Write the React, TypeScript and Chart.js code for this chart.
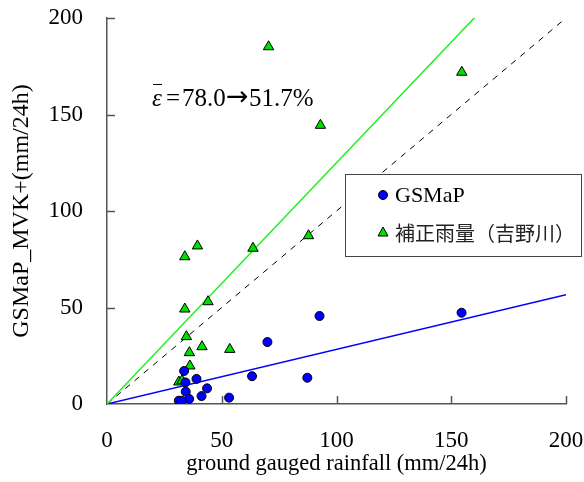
import React, { useEffect, useRef } from "react";
import { Chart, registerables } from "chart.js";

Chart.register(...registerables);

// ---- data ----
const gsmapX = [154.5, 92.6, 69.9, 63.2, 87.3, 33.6, 39.0, 34.2, 43.6, 34.3, 41.2, 53.2, 35.8, 31.3, 32.5];
const gsmapY = [47.3, 45.6, 32.1, 14.4, 13.6, 17.1, 13.0, 11.2, 8.1, 6.4, 4.1, 3.3, 2.6, 1.7, 1.7];

const corrX = [70.4, 154.6, 93.0, 87.8, 39.4, 63.6, 33.9, 44.0, 33.9, 34.6, 41.4, 53.5, 35.9, 36.1, 31.3, 32.7];
const corrY = [185.1, 171.9, 144.4, 87.2, 81.9, 80.7, 76.3, 53.0, 49.2, 34.9, 29.7, 28.3, 26.6, 19.7, 11.4, 12.1];

const greenSlope = 1.25;
const blueSlope = 0.283;
const axisMax = 200;
const tickStep = 50;

const labelGsmap = "GSMaP";
const labelCorr = "補正雨量（吉野川）";
const xTitle = "ground gauged rainfall (mm/24h)";
const yTitle = "GSMaP_MVK+(mm/24h)";
const errBefore = "78.0";
const errAfter = "51.7%";

const SERIF = "'Liberation Serif', 'Times New Roman', serif";
const BLUE = "#0000ff";
const GREEN = "#00e000";
const GREEN_LINE = "#22ee22";
const AXIS = "#555555";

const toPts = (xs: number[], ys: number[]) => xs.map((x, i) => ({ x, y: ys[i] }));

const innerTicks = {
  id: "innerTicks",
  afterDraw(chart: any) {
    const { ctx, chartArea, scales } = chart;
    const xs = scales.x, ys = scales.y;
    ctx.save();
    ctx.strokeStyle = AXIS;
    ctx.lineWidth = 1.5;
    ctx.beginPath();
    for (let v = tickStep; v <= axisMax; v += tickStep) {
      const px = Math.round(xs.getPixelForValue(v)) + 0.5;
      ctx.moveTo(px, chartArea.bottom);
      ctx.lineTo(px, chartArea.bottom - 8);
      const py = Math.round(ys.getPixelForValue(v)) + 0.5;
      ctx.moveTo(chartArea.left, py);
      ctx.lineTo(chartArea.left + 8, py);
    }
    ctx.stroke();
    ctx.restore();
  },
};

const legendBox = {
  id: "legendBox",
  afterDraw(chart: any) {
    const { ctx } = chart;
    const L = 345, T = 174, R = 581, B = 256;
    ctx.save();
    ctx.fillStyle = "#ffffff";
    ctx.fillRect(L, T, R - L, B - T);
    ctx.strokeStyle = "#444444";
    ctx.lineWidth = 1;
    ctx.strokeRect(L + 0.5, T + 0.5, R - L, B - T);
    const ds = chart.data.datasets;
    ctx.fillStyle = ds[0].backgroundColor;
    ctx.strokeStyle = "#000";
    ctx.lineWidth = 1;
    ctx.beginPath();
    ctx.arc(383, 195, 4.5, 0, Math.PI * 2);
    ctx.fill();
    ctx.stroke();
    ctx.fillStyle = ds[1].backgroundColor;
    ctx.beginPath();
    ctx.moveTo(383, 227);
    ctx.lineTo(388, 236);
    ctx.lineTo(378, 236);
    ctx.closePath();
    ctx.fill();
    ctx.stroke();
    ctx.fillStyle = "#000";
    ctx.textBaseline = "middle";
    ctx.textAlign = "left";
    ctx.font = `22px ${SERIF}`;
    ctx.fillText(ds[0].label, 395, 196);
    ctx.fillStyle = "#222";
    ctx.font = `20px 'Noto Sans CJK JP', sans-serif`;
    ctx.fillText(ds[1].label, 395, 233);
    ctx.restore();
  },
};

const annotation = {
  id: "annotation",
  afterDatasetsDraw(chart: any) {
    const { ctx } = chart;
    const base = 106;
    ctx.save();
    ctx.fillStyle = "#000";
    ctx.textBaseline = "alphabetic";
    ctx.textAlign = "left";
    ctx.font = `italic 25px ${SERIF}`;
    ctx.fillText("ε", 152, base);
    ctx.strokeStyle = "#000";
    ctx.lineWidth = 1;
    ctx.beginPath();
    ctx.moveTo(153, 84.5);
    ctx.lineTo(162, 84.5);
    ctx.stroke();
    ctx.font = `25px ${SERIF}`;
    ctx.fillText("=", 166, base);
    ctx.fillText(errBefore, 182, base);
    ctx.font = `27px 'DejaVu Sans', sans-serif`;
    ctx.fillText("→", 226, base - 1);
    ctx.font = `25px ${SERIF}`;
    ctx.fillText(errAfter, 249, base);
    ctx.restore();
  },
};

export default function App() {
  const ref = useRef<HTMLCanvasElement | null>(null);
  useEffect(() => {
    if (!ref.current) return;
    const chart = new Chart(ref.current, {
      type: "scatter",
      data: {
        datasets: [
          {
            label: labelGsmap,
            data: toPts(gsmapX, gsmapY),
            pointStyle: "circle",
            pointRadius: 4.5,
            backgroundColor: BLUE,
            borderColor: "#000",
            borderWidth: 1,
          },
          {
            label: labelCorr,
            data: toPts(corrX, corrY),
            pointStyle: "triangle",
            pointRadius: 6,
            backgroundColor: GREEN,
            borderColor: "#000",
            borderWidth: 1,
          },
          {
            label: "fitCorr",
            data: [{ x: 0, y: 0 }, { x: axisMax, y: axisMax * greenSlope }],
            showLine: true,
            pointRadius: 0,
            borderColor: GREEN_LINE,
            borderWidth: 1.5,
          },
          {
            label: "oneToOne",
            data: [{ x: 0, y: 0 }, { x: axisMax, y: axisMax }],
            showLine: true,
            pointRadius: 0,
            borderColor: "#000",
            borderWidth: 1,
            borderDash: [6, 6],
          },
          {
            label: "fitGsmap",
            data: [{ x: 0, y: 0 }, { x: axisMax, y: axisMax * blueSlope }],
            showLine: true,
            pointRadius: 0,
            borderColor: BLUE,
            borderWidth: 1.5,
          },
        ],
      },
      options: {
        animation: false,
        responsive: true,
        maintainAspectRatio: false,
        layout: { padding: { top: 18, right: 18, left: 0, bottom: 0 } },
        plugins: { legend: { display: false }, tooltip: { enabled: false } },
        scales: {
          x: {
            type: "linear",
            min: 0,
            max: axisMax,
            ticks: { stepSize: tickStep, padding: 23, color: "#000", font: { family: SERIF, size: 23 } },
            grid: { drawOnChartArea: false, drawTicks: false },
            border: { display: true, color: AXIS, width: 1.5 },
            title: { display: true, text: xTitle, color: "#000", font: { family: SERIF, size: 22.5 }, padding: { top: 0, bottom: 4 } },
            afterFit: (s: any) => {
              s.height = 78;
              s.paddingLeft = 0;
              s.paddingRight = 0;
            },
          },
          y: {
            type: "linear",
            min: 0,
            max: axisMax,
            ticks: { stepSize: tickStep, padding: 24, color: "#000", font: { family: SERIF, size: 23 } },
            grid: { drawOnChartArea: false, drawTicks: false },
            border: { display: true, color: AXIS, width: 1.5 },
            title: { display: true, text: yTitle, color: "#000", font: { family: SERIF, size: 24 }, padding: { top: 7, bottom: 0 } },
            afterFit: (s: any) => {
              s.width = 107;
              s.paddingTop = 0;
              s.paddingBottom = 0;
            },
          },
        },
      } as any,
      plugins: [innerTicks, annotation, legendBox],
    });
    return () => chart.destroy();
  }, []);
  return (
    <div style={{ position: "fixed", left: 0, top: 0, width: 584, height: 482, background: "#fff" }}>
      <canvas ref={ref} />
    </div>
  );
}
